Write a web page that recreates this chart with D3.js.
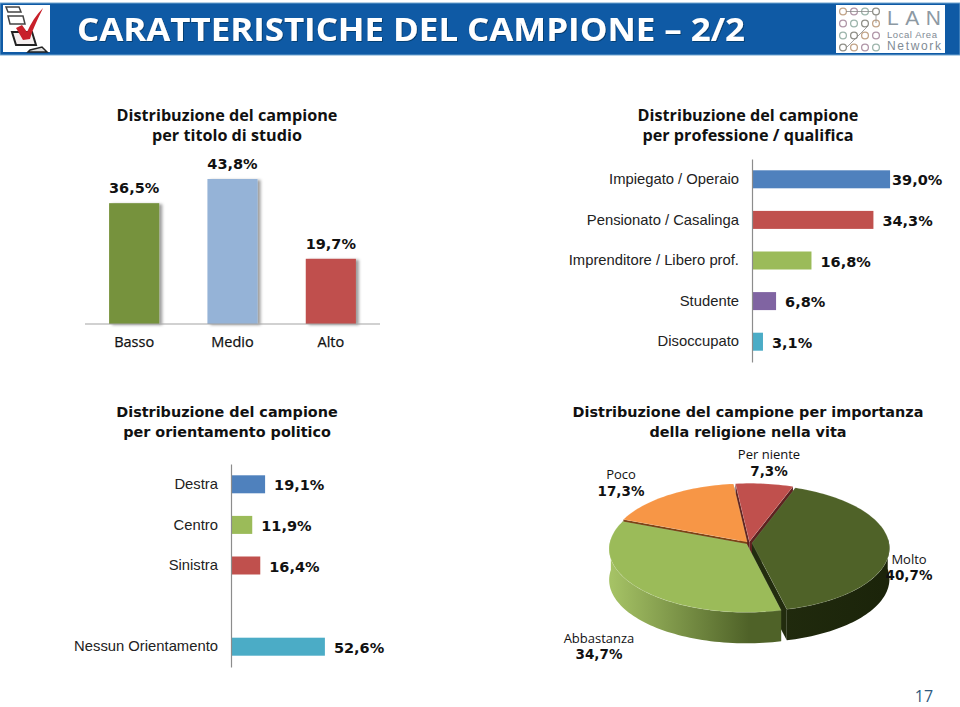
<!DOCTYPE html>
<html><head><meta charset="utf-8">
<script src="https://cdn.jsdelivr.net/npm/d3@7"></script>
<style>html,body{margin:0;padding:0;background:#fff}svg{display:block}</style></head>
<body><svg id="c" width="960" height="707"></svg>
<script>
const studyCats=["Basso","Medio","Alto"];
const studyVals=[36.5,43.8,19.7];
const studyLabels=["36,5%","43,8%","19,7%"];
const studyColors=["#76923c","#95b3d7","#c0504d"];
const jobCats=["Impiegato / Operaio","Pensionato / Casalinga","Imprenditore / Libero prof.","Studente","Disoccupato"];
const jobVals=[39.0,34.3,16.8,6.8,3.1];
const jobLabels=["39,0%","34,3%","16,8%","6,8%","3,1%"];
const jobColors=["#4f81bd","#c0504d","#9bbb59","#8064a2","#4bacc6"];
const polCats=["Destra","Centro","Sinistra","",  "Nessun Orientamento"];
const polVals=[19.1,11.9,16.4,0,52.6];
const polLabels=["19,1%","11,9%","16,4%","","52,6%"];
const polColors=["#4f81bd","#9bbb59","#c0504d","none","#4bacc6"];
const pieCats=["Molto","Abbastanza","Poco","Per niente"];
const pieVals=[40.7,34.7,17.3,7.3];
const pieLabels=["40,7%","34,7%","17,3%","7,3%"];
const pieTop=["#4f6228","#9bbb59","#f79646","#c0504d"];
const pieWallL=["#222c0e","#8aa750","#7a3f10","#5e2220"];
const pieWallR=["#1b240a","#4f6228","#7a3f10","#5e2220"];

const svg=d3.select("#c");
const V="'DejaVu Sans',Verdana,sans-serif",A="'Liberation Sans',Arial,sans-serif",T="'Open Sans','Noto Sans',sans-serif";
const defs=svg.append("defs");
const sh=defs.append("filter").attr("id","sh").attr("x","-20%").attr("y","-10%").attr("width","150%").attr("height","120%");
sh.append("feDropShadow").attr("dx",3).attr("dy",1).attr("stdDeviation",1.6).attr("flood-color","#000").attr("flood-opacity",.38);
const ts=defs.append("filter").attr("id","ts").attr("x","-5%").attr("y","-10%").attr("width","110%").attr("height","130%");
ts.append("feDropShadow").attr("dx",1).attr("dy",1).attr("stdDeviation",.6).attr("flood-color","#06315e").attr("flood-opacity",.7);

// header
svg.append("rect").attr("x",0).attr("y",3).attr("width",960).attr("height",52).attr("fill","#0f5aa5").attr("stroke","#6ea3cf").attr("stroke-width",1);
svg.append("text").text("CARATTERISTICHE DEL CAMPIONE – 2/2").attr("x",77).attr("y",41).attr("font-family",T).attr("font-weight",700).attr("font-size",32).attr("textLength",668).attr("lengthAdjust","spacingAndGlyphs").attr("fill","#fff").attr("filter","url(#ts)");
// check icon
const ic=svg.append("g");
ic.append("rect").attr("x",3).attr("y",5).attr("width",47).attr("height",47).attr("fill","#fff");
[[6,7,13,5],[8,16,15,8]].forEach(b=>ic.append("path").attr("d",`M${b[0]} ${b[1]}h${b[2]}l2 ${b[3]}h-${b[2]}z`).attr("fill","none").attr("stroke","#444").attr("stroke-width",1.5));
ic.append("path").attr("d","M12 32h20l4 13h-20z").attr("fill","#f5efef").attr("stroke","#222").attr("stroke-width",2);
ic.append("path").attr("d","M30 50l12-3 5 5h-19z").attr("fill","#ddd").attr("stroke","#222").attr("stroke-width",1.5);
ic.append("path").attr("d","M16 28l6-3 5 7c4-9 9-17 16-24-4 9-10 20-13 31l-7 1z").attr("fill","#c8202a");
// LAN logo
const lg=svg.append("g");
lg.append("rect").attr("x",836).attr("y",5).attr("width",109).attr("height",48).attr("fill","#fff");
const dotCols=["#c2a488","#b096a8","#9db5ac","#8f8f88"];
d3.range(4).forEach(r=>d3.range(4).forEach(c=>lg.append("circle").attr("cx",843+c*11).attr("cy",11.5+r*12).attr("r",3.4).attr("fill","#fff").attr("stroke",dotCols[(r+c)%4]).attr("stroke-width",1.3)));
lg.append("path").attr("d","M846 11.5h26M876 15v8M868 26l-22 22").attr("stroke","#8a8a8a").attr("fill","none").attr("stroke-width",.8);
lg.append("text").text("LAN").attr("x",887).attr("y",25).attr("font-family",A).attr("font-size",21).attr("fill","#8d99a3").attr("textLength",54);
lg.append("text").text("Local Area").attr("x",887).attr("y",37.5).attr("font-family",A).attr("font-size",9.5).attr("fill","#7f8b95").attr("textLength",50);
lg.append("text").text("Network").attr("x",887).attr("y",50).attr("font-family",A).attr("font-size",12).attr("fill","#7f8b95").attr("textLength",54);
// page no
svg.append("text").text("17").attr("x",924).attr("y",702).attr("text-anchor","middle").attr("font-family",T).attr("font-size",16).attr("fill","#2f5a80");

function title(lines,cx,y,fam,size){
  lines.forEach((l,i)=>svg.append("text").text(l).attr("x",cx).attr("y",y+i*20).attr("text-anchor","middle").attr("font-family",fam).attr("font-weight",700).attr("font-size",size).attr("fill","#111"));
}
title(["Distribuzione del campione","per titolo di studio"],227,121,T,16.2);
title(["Distribuzione del campione","per professione  / qualifica"],748,121,T,16.2);
title(["Distribuzione del campione","per orientamento politico"],227,417,V,14.4);
title(["Distribuzione del campione per importanza","della religione nella vita"],748,417,V,14.4);

// column chart
const x1=d3.scaleBand().domain(studyCats).range([85,380]).paddingInner(.49).paddingOuter(.245);
const y1=d3.scaleLinear().domain([0,43.8]).range([324,179]);
const g1=svg.append("g");
g1.selectAll("rect").data(studyVals).join("rect").attr("x",(d,i)=>x1(studyCats[i])).attr("width",x1.bandwidth()).attr("y",d=>y1(d)).attr("height",d=>y1(0)-y1(d)).attr("fill",(d,i)=>studyColors[i]).attr("filter","url(#sh)");
g1.selectAll("text.v").data(studyLabels).join("text").attr("class","v").text(d=>d).attr("x",(d,i)=>x1(studyCats[i])+x1.bandwidth()/2).attr("y",(d,i)=>y1(studyVals[i])-10).attr("text-anchor","middle").attr("font-family",V).attr("font-weight",700).attr("font-size",14.5).attr("fill","#111");
const ax1=svg.append("g").attr("transform","translate(0,324)").call(d3.axisBottom(x1).tickSize(0).tickPadding(13));
ax1.select(".domain").attr("stroke","#a3a3a3").attr("d","M85,0H380");
ax1.selectAll("text").attr("font-family",T).attr("font-size",14.5).attr("fill","#111").attr("stroke","#111").attr("stroke-width",.25);

function hbars(cats,vals,labels,colors,x0,scale,yTop,yBot,h,maxLabelX){
  const y=d3.scaleBand().domain(d3.range(cats.length)).range([yTop,yBot]).padding(.0);
  const x=d3.scaleLinear().domain([0,100]).range([x0,x0+scale*100]);
  const g=svg.append("g");
  g.selectAll("rect").data(vals).join("rect").attr("x",x0).attr("y",(d,i)=>y(i)+y.bandwidth()/2-h/2).attr("width",d=>x(d)-x0).attr("height",h).attr("fill",(d,i)=>colors[i]);
  const ax=svg.append("g").attr("transform",`translate(${x0},0)`).call(d3.axisLeft(y).tickSize(0).tickPadding(13).tickFormat(i=>cats[i]));
  ax.select(".domain").attr("stroke","#8c8c8c").attr("stroke-width",1.2);
  ax.selectAll("text").attr("font-family",A).attr("font-size",14.8).attr("fill","#222");
  g.selectAll("text").data(labels).join("text").text(d=>d).attr("x",(d,i)=>Math.min(x(vals[i])+9,maxLabelX)).attr("y",(d,i)=>y(i)+y.bandwidth()/2+6).attr("font-family",V).attr("font-weight",700).attr("font-size",14.5).attr("fill","#111");
}
hbars(jobCats,jobVals,jobLabels,jobColors,752,3.54,159,362,18,892);
hbars(polCats,polVals,polLabels,polColors,231,1.785,464,667,18,999);

// 3D pie
const cx=749,cy=543,R=137,AA=63,B=1/13,depth=31,ex=.022;
const proj=(u,v,dy=0)=>{const w=1-B*v;return [cx+R*u/w,cy+AA*v/w+dy];};
const arcs=d3.pie().sort(null).startAngle(20*Math.PI/180).endAngle((360+20)*Math.PI/180)(pieVals);
const line=d3.line();
function pts(a0,a1,off,dy){
  const n=Math.max(2,Math.ceil(Math.abs(a1-a0)/.03));
  return d3.range(n+1).map(k=>{const t=a0+(a1-a0)*k/n;return proj(Math.sin(t)+off[0],-Math.cos(t)+off[1],dy);});
}
const pg=svg.append("g");
const order=[3,2,0,1];
order.forEach(i=>{
  const a=arcs[i],mid=(a.startAngle+a.endAngle)/2,off=[ex*Math.sin(mid),-ex*Math.cos(mid)];
  const grad=defs.append("linearGradient").attr("id","w"+i).attr("gradientUnits","userSpaceOnUse").attr("x1",cx-R).attr("x2",cx+R).attr("y1",0).attr("y2",0);
  const gr0=i==1?"#a5c265":pieWallL[i], gr1=pieWallR[i];
  grad.append("stop").attr("offset",i==1?0:.5).attr("stop-color",gr0);
  grad.append("stop").attr("offset",i==1?.5:1).attr("stop-color",gr1);
  const apexTop=proj(off[0],off[1],0),apexBot=proj(off[0],off[1],depth);
  [a.startAngle,a.endAngle].forEach(t=>{
    const e=proj(Math.sin(t)+off[0],-Math.cos(t)+off[1],0),e2=proj(Math.sin(t)+off[0],-Math.cos(t)+off[1],depth);
    pg.append("path").attr("d",line([apexTop,e,e2,apexBot])+"Z").attr("fill",i==0?"#222c0e":pieWallR[i]);
  });
  const s=Math.max(a.startAngle,Math.PI/2-.08),e=Math.min(a.endAngle,3*Math.PI/2+.08);
  if(e>s){
    const top=pts(s,e,off,0),bot=pts(e,s,off,depth);
    pg.append("path").attr("d",line(top.concat(bot))+"Z").attr("fill",`url(#w${i})`);
  }
  const rim=pts(a.startAngle,a.endAngle,off,0);
  pg.append("path").attr("d",line([apexTop].concat(rim))+"Z").attr("fill",pieTop[i]).attr("stroke","#fff").attr("stroke-opacity",.25).attr("stroke-width",.5);
});
const pieAnchors=[[909,[559,575]],[599,[638,654]],[621,[474,491]],[769,[454,471]]];
pieCats.forEach((c,i)=>{
  const pa=pieAnchors[i];
  svg.append("text").text(c).attr("x",pa[0]).attr("y",pa[1][0]+5).attr("text-anchor","middle").attr("font-family",T).attr("font-size",13).attr("fill","#111");
  svg.append("text").text(pieLabels[i]).attr("x",pa[0]).attr("y",pa[1][1]+5).attr("text-anchor","middle").attr("font-family",V).attr("font-weight",700).attr("font-size",13.5).attr("fill","#111");
});
</script></body></html>
